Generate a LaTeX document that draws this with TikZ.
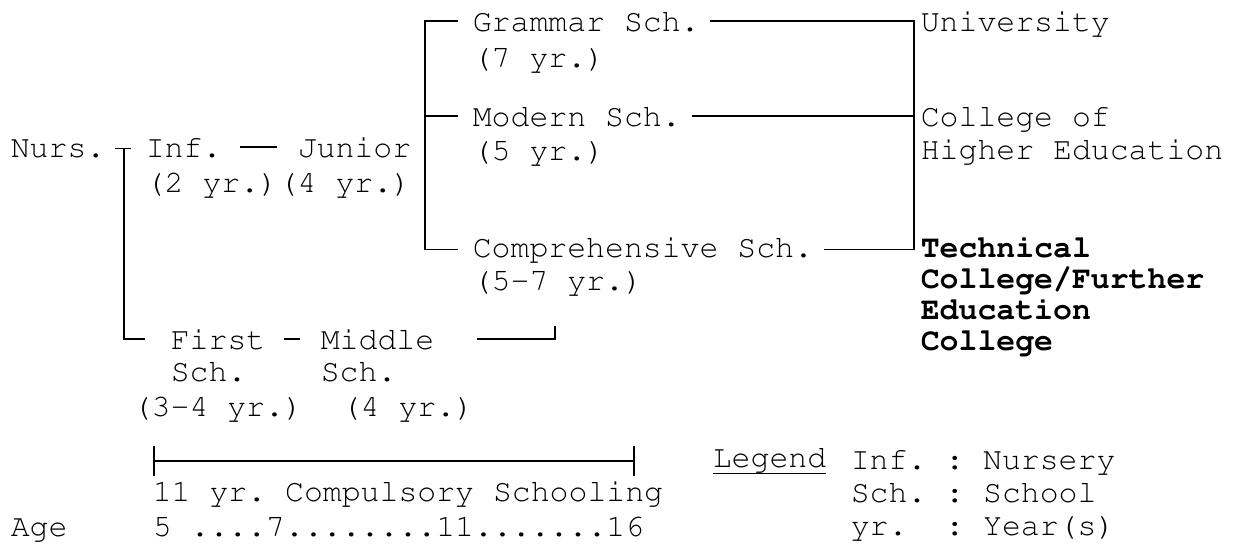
\documentclass[tikz,border=0pt]{standalone}
\usepackage[T1]{fontenc}
\usepackage{courier}
\usetikzlibrary{arrows.meta}
\begin{document}
\begin{tikzpicture}[x=1pt,y=-1pt,line width=1.6pt,
    every node/.style={inner sep=0pt,anchor=base west,align=left,
      font=\fontsize{31.5}{33}\ttfamily\frenchspacing},
    boldtext/.style={font=\fontsize{31.5}{31}\ttfamily\bfseries\frenchspacing}]
      \useasboundingbox (0,0) rectangle (1241,544);
      \draw
        (10,157) node (nurs){Nurs.}
        (145,157) node (inf){Inf.}
        (297,157) node (junior){Junior}
        (145,192) node (infyr){(2 yr.)}
        (278,192) node (junioryr){(4 yr.)}
        (472,31) node (grammar){Grammar Sch.}
        (472,67) node (grammaryr){(7 yr.)}
        (472,126) node (modern){Modern Sch.}
        (472,160) node (modernyr){(5 yr.)}
        (472,257) node (compr){Comprehensive Sch.}
        (472,290) node (compryr){(5-7 yr.)}
        (920,31) node (univ){University}
        (920,159) node (college){College of\\Higher Education}
        (920,350) node[boldtext] (techcoll){Technical\\College/Further\\Education\\College}
        (170,349) node (first){First}
        (170,381) node (firstsch){Sch.}
        (132,416) node (firstyr){(3-4 yr.)}
        (320,349) node (middle){Middle}
        (320,381) node (middlesch){Sch.}
        (341,416) node (middleyr){(4 yr.)}
        (152,501) node (compuls){11 yr. Compulsory Schooling}
        (10,536) node (age){Age}
        (152,536) node (ages){5 ....7........11.......16}
        (712,467) node (legend){\underline{Legend}}
        (850,535) node (legendtxt){Inf. : Nursery\\Sch. : School\\yr.\ \ : Year(s)};
      \coordinate (midup) at (555,326);
      \coordinate (spanl) at (153,461);
      \coordinate (spanr) at (635,461);
      \begin{scope}[-]
        \draw ([xshift=9pt]nurs.east) to ([xshift=-14pt]nurs.east -| inf.west);
        \draw ([xshift=18pt]nurs.east) |- ([xshift=-25pt]first.west);
        \draw ([xshift=18pt]inf.east) to ([xshift=-20pt]inf.east -| junior.west);
        \draw ([xshift=18pt]first.east) to ([xshift=-20pt]first.east -| middle.west);
        \draw ([xshift=42pt]middle.east) -| (midup);
        \draw ([xshift=-14pt]grammar.west) -| ([xshift=-47pt]compr.west) to ([xshift=-14pt]compr.west);
        \draw ([xshift=-14pt]modern.west) to ([xshift=-47pt]modern.west);
        \draw ([xshift=10pt]grammar.east) -| ([xshift=-6pt]univ.west |- compr.east) to ([xshift=10pt]compr.east);
        \draw ([xshift=10pt]modern.east) to ([xshift=-6pt]modern.east -| univ.west);
        \draw[{Bar[width=30pt]}-{Bar[width=30pt]}] (spanl) to (spanr);
      \end{scope}
    \end{tikzpicture}
\end{document}
